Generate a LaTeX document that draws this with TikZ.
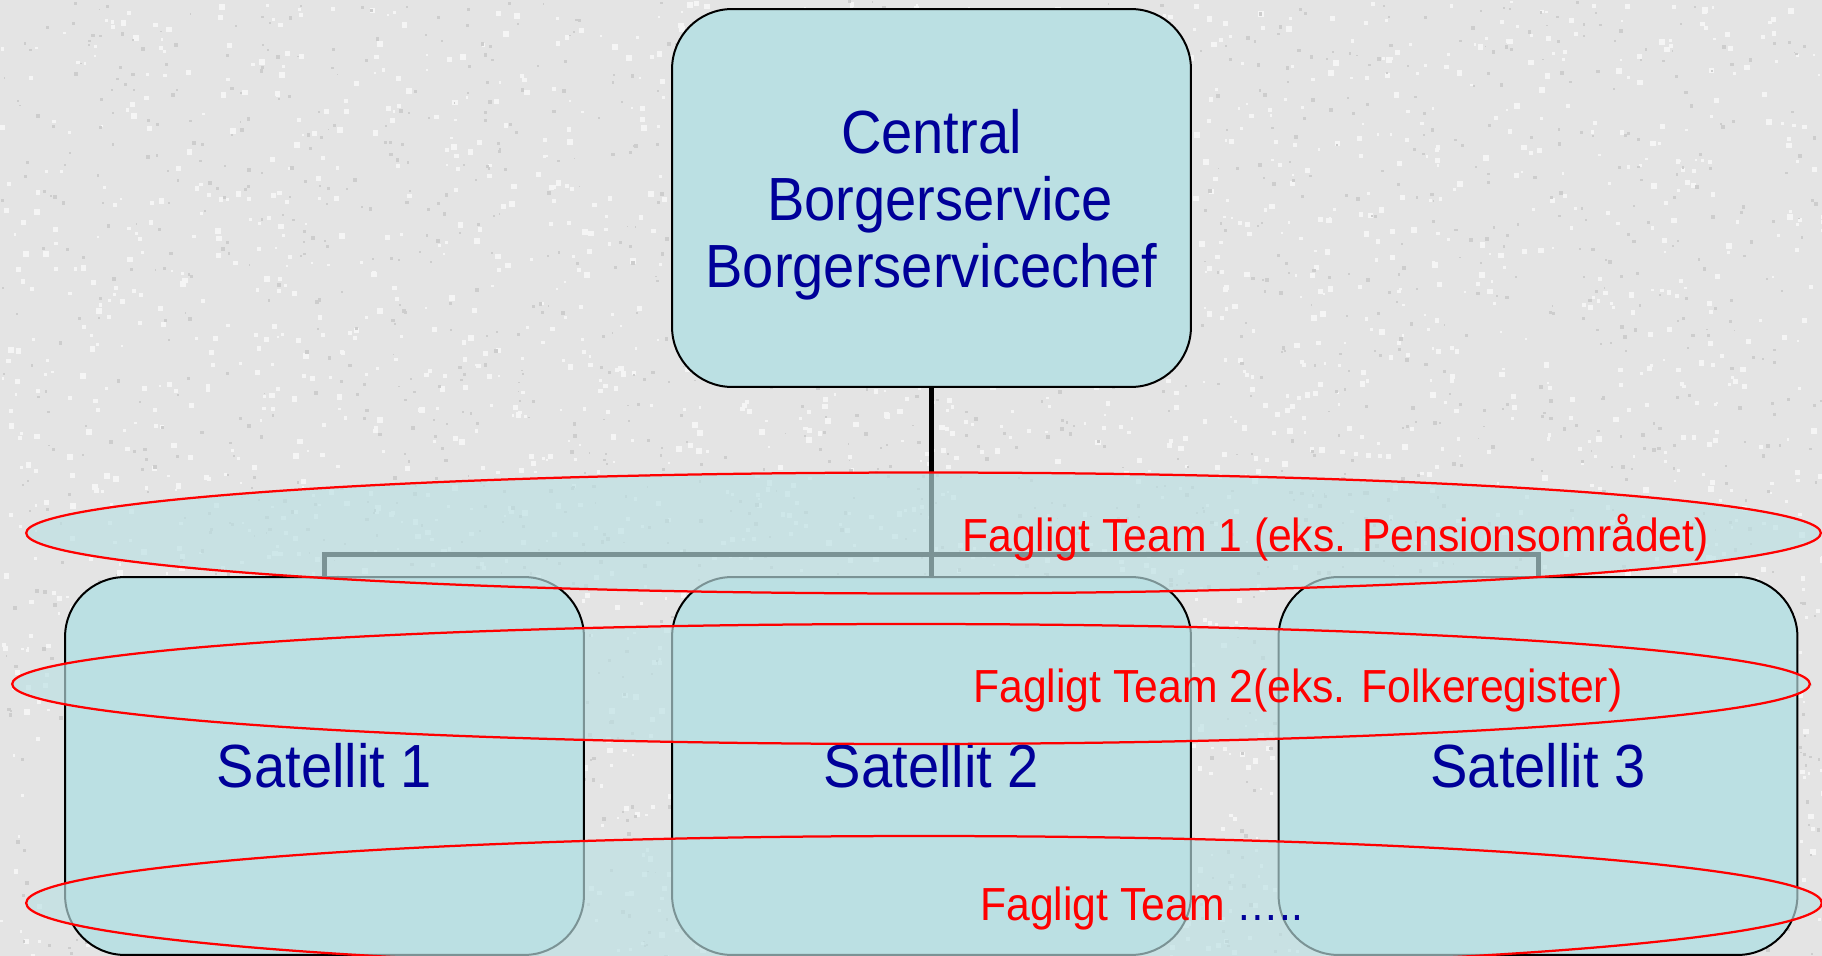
\documentclass[tikz,border=0pt]{standalone}
\usepackage{fontspec}
\setmainfont[FakeStretch=0.92]{Liberation Sans}
\definecolor{bgc}{RGB}{228,228,228}
\definecolor{speck}{RGB}{205,205,205}
\definecolor{light}{RGB}{245,245,245}
\definecolor{boxfill}{HTML}{BBE0E3}
\definecolor{navy}{HTML}{000099}
\definecolor{teamred}{HTML}{FF0000}
\tikzset{
  orgbox/.style={draw=black, line width=0.04cm, fill=boxfill, rounded corners=1.2cm,
    minimum width=10.38cm, minimum height=7.56cm, inner sep=0pt,
    text=navy, font=\fontsize{34.7}{38.1}\selectfont, align=center},
  conn/.style={draw=black, line width=0.1cm},
  team/.style={draw=teamred, line width=0.045cm, fill=boxfill, fill opacity=0.66},
  teamlabel/.style={text=teamred, font=\fontsize{26.4}{30}\selectfont, inner sep=0pt, anchor=base west}
}
\begin{document}
\begin{tikzpicture}[x=0.02cm, y=-0.02cm]
\fill[bgc] (0,0) rectangle (1822,956);
\useasboundingbox (0,0) rectangle (1822,956);
% granite-like background texture
\pgfmathsetseed{7}
\foreach \i in {1,...,2600}{
  \pgfmathsetmacro{\px}{rnd*1822}
  \pgfmathsetmacro{\py}{rnd*956}
  \pgfmathsetmacro{\pr}{2+rnd*4}
  \fill[light] (\px,\py) rectangle ++(\pr,\pr);
}
\foreach \i in {1,...,2000}{
  \pgfmathsetmacro{\px}{rnd*1822}
  \pgfmathsetmacro{\py}{rnd*956}
  \pgfmathsetmacro{\pr}{1.5+rnd*2.5}
  \fill[speck] (\px,\py) rectangle ++(\pr,\pr);
}
\node[orgbox, text depth=0pt] (top) at (931.5,198) {Central\\\hspace*{0.28em}Borgerservice\\Borgerservicechef};
\coordinate (bus) at (931.5,554);
\node[orgbox] (s1) at (324.5,766) {Satellit 1};
\node[orgbox] (s2) at (931.5,766) {Satellit 2};
\node[orgbox] (s3) at (1538,766) {Satellit 3};
\draw[conn] (top.south) -- (bus);
\draw[conn] (s1.north) |- (bus) -| (s3.north);
\draw[conn] (bus) -- (s2.north);
% team ellipses
\draw[team] (923.5,533) ellipse [x radius=17.95cm, y radius=1.21cm];
\draw[team] (911,684) ellipse [x radius=17.98cm, y radius=1.2cm];
\draw[team] (924,903) ellipse [x radius=17.96cm, y radius=1.34cm];
\node[teamlabel] (t1) at (962,551) {Fagligt Team 1 (eks. Pensionsområdet)};
\node[teamlabel] (t2) at (973,702) {Fagligt Team 2(eks. Folkeregister)};
\node[teamlabel] (t3) at (980,920) {Fagligt Team \textcolor{navy}{…..}};
\end{tikzpicture}
\end{document}
